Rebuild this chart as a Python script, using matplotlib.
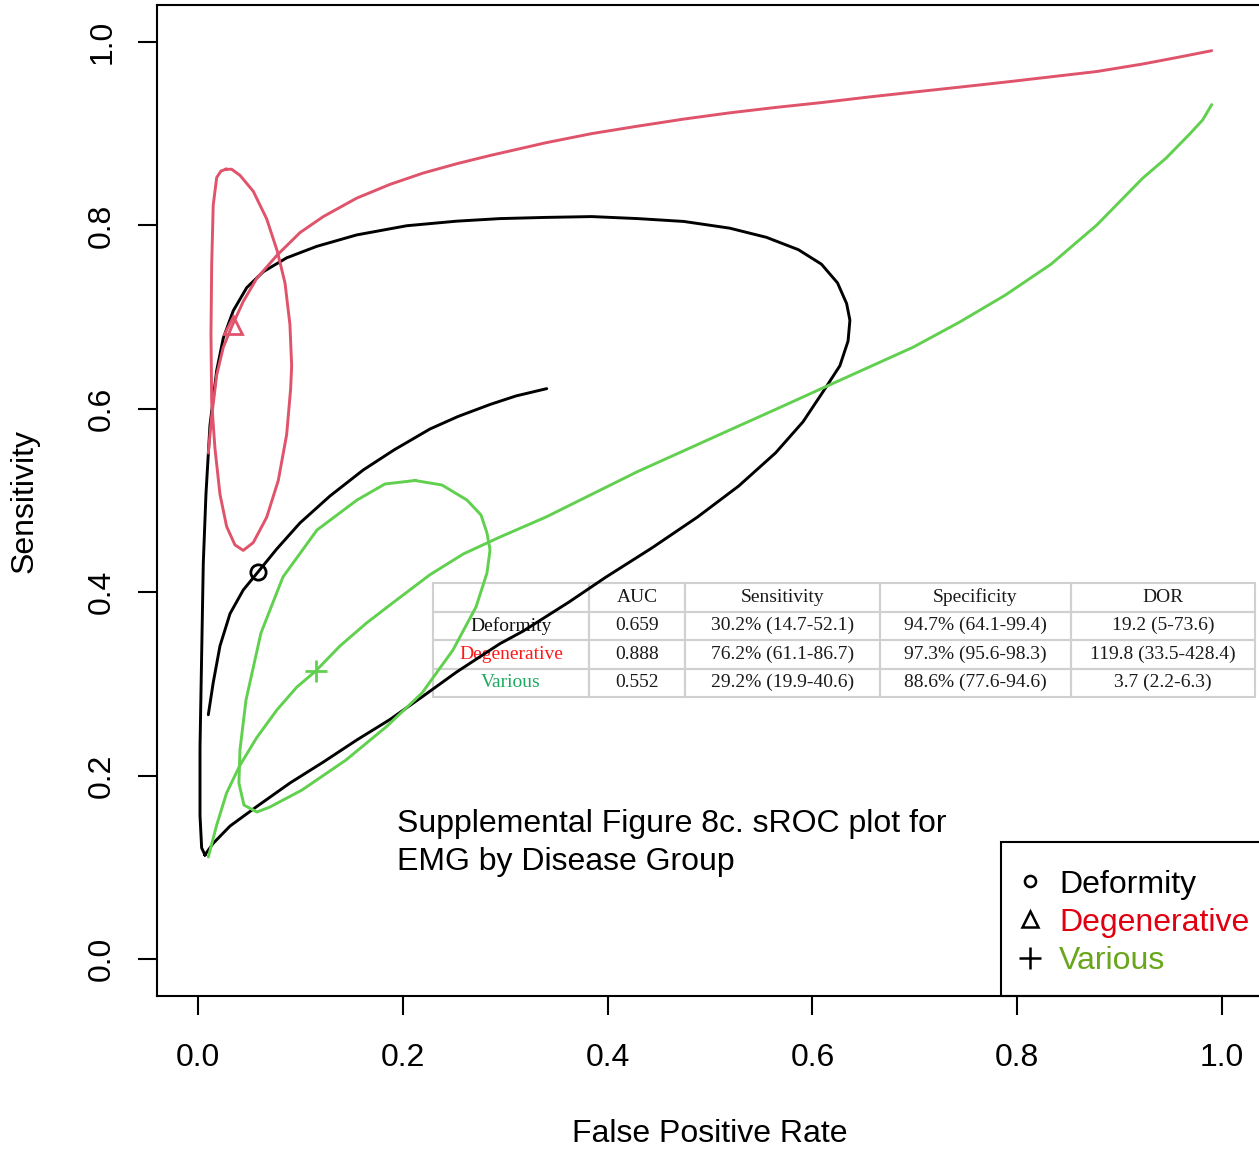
import numpy as np
import matplotlib.pyplot as plt
from matplotlib.patches import Rectangle

plt.rcParams['font.family'] = ['Liberation Sans', 'DejaVu Sans']

# ---- data (FPR, sensitivity) ----
groups = ["Deformity", "Degenerative", "Various"]
line_colors = ["black", "#DF536B", "#61D04F"]
legend_text_colors = ["black", "#E00010", "#6AA61C"]
table_name_colors = ["#111111", "#FF1A1A", "#1DAA60"]
markers = ["o", "^", "+"]

# summary points
point_fpr = [0.0586, 0.0342, 0.1152]
point_sens = [0.4220, 0.6910, 0.3141]

# sROC curves
deform_curve_fpr = [0.0101, 0.0149, 0.0215, 0.0313, 0.0442, 0.0586, 0.0769, 0.0996,
                    0.1289, 0.1614, 0.1914, 0.2266, 0.2539, 0.2852, 0.3105, 0.3406]
deform_curve_sens = [0.2664, 0.3014, 0.3414, 0.3766, 0.4024, 0.4220, 0.4471, 0.4755,
                     0.5049, 0.5333, 0.5551, 0.5780, 0.5916, 0.6047, 0.6140, 0.6220]

degen_curve_fpr = [0.0101, 0.0134, 0.0183, 0.0247, 0.0329, 0.0442, 0.0573, 0.0769,
                   0.0996, 0.1224, 0.1550, 0.1875, 0.2200, 0.2526, 0.2852, 0.3397,
                   0.3846, 0.4294, 0.4743, 0.5191, 0.5640, 0.6088, 0.6536, 0.6984,
                   0.7433, 0.7881, 0.8330, 0.8778, 0.9227, 0.9585, 0.9899]
degen_curve_sens = [0.5518, 0.5918, 0.6369, 0.6670, 0.6894, 0.7170, 0.7420, 0.7671,
                    0.7921, 0.8096, 0.8297, 0.8447, 0.8571, 0.8672, 0.8762, 0.8901,
                    0.9001, 0.9082, 0.9159, 0.9227, 0.9286, 0.9339, 0.9398, 0.9453,
                    0.9507, 0.9562, 0.9620, 0.9678, 0.9760, 0.9836, 0.9905]

various_curve_fpr = [0.0101, 0.0183, 0.0280, 0.0410, 0.0573, 0.0769, 0.0964, 0.1149,
                     0.1387, 0.1647, 0.1940, 0.2266, 0.2591, 0.2949, 0.3397, 0.3846,
                     0.4294, 0.4743, 0.5191, 0.5640, 0.6088, 0.6536, 0.6984, 0.7433,
                     0.7881, 0.8330, 0.8778, 0.9227, 0.9450, 0.9675, 0.9810, 0.9899]
various_curve_sens = [0.1112, 0.1462, 0.1812, 0.2113, 0.2413, 0.2714, 0.2964, 0.3140,
                      0.3414, 0.3665, 0.3916, 0.4191, 0.4417, 0.4602, 0.4819, 0.5068,
                      0.5316, 0.5542, 0.5768, 0.5993, 0.6220, 0.6446, 0.6672, 0.6943,
                      0.7238, 0.7577, 0.8005, 0.8517, 0.8730, 0.8986, 0.9149, 0.9317]

# confidence regions
deform_ell_fpr = [0.0068, 0.0036, 0.0020, 0.0020, 0.0036, 0.0052, 0.0078, 0.0117,
                  0.0183, 0.0247, 0.0345, 0.0476, 0.0638, 0.0866, 0.1159, 0.1550,
                  0.2038, 0.2526, 0.2949, 0.3397, 0.3846, 0.4294, 0.4743, 0.5191,
                  0.5550, 0.5863, 0.6088, 0.6245, 0.6334, 0.6366, 0.6348, 0.6268,
                  0.6110, 0.5908, 0.5640, 0.5280, 0.4877, 0.4429, 0.3980, 0.3622,
                  0.3174, 0.2949, 0.2526, 0.2200, 0.1875, 0.1550, 0.1224, 0.0898,
                  0.0573, 0.0313, 0.0149, 0.0068]
deform_ell_sens = [0.1136, 0.1212, 0.1563, 0.2313, 0.3315, 0.4316, 0.5067, 0.5818,
                   0.6419, 0.6770, 0.7070, 0.7321, 0.7495, 0.7646, 0.7771, 0.7896,
                   0.7996, 0.8046, 0.8074, 0.8087, 0.8096, 0.8074, 0.8043, 0.7970,
                   0.7870, 0.7735, 0.7577, 0.7373, 0.7147, 0.6966, 0.6739, 0.6469,
                   0.6197, 0.5858, 0.5519, 0.5158, 0.4819, 0.4480, 0.4162, 0.3892,
                   0.3575, 0.3439, 0.3130, 0.2868, 0.2612, 0.2388, 0.2148, 0.1919,
                   0.1662, 0.1450, 0.1262, 0.1136]

degen_ell_fpr = [0.0273, 0.0329, 0.0410, 0.0540, 0.0671, 0.0774, 0.0850, 0.0898,
                 0.0915, 0.0905, 0.0866, 0.0784, 0.0671, 0.0540, 0.0442, 0.0361,
                 0.0280, 0.0215, 0.0166, 0.0134, 0.0127, 0.0134, 0.0149, 0.0183,
                 0.0225, 0.0273]
degen_ell_sens = [0.8612, 0.8612, 0.8546, 0.8372, 0.8071, 0.7721, 0.7371, 0.6919,
                  0.6469, 0.6219, 0.5718, 0.5217, 0.4817, 0.4541, 0.4456, 0.4516,
                  0.4716, 0.5067, 0.5568, 0.6069, 0.6819, 0.7570, 0.8222, 0.8522,
                  0.8593, 0.8612]

various_ell_fpr = [0.2119, 0.2383, 0.2627, 0.2764, 0.2822, 0.2852, 0.2822, 0.2715,
                   0.2490, 0.2188, 0.1836, 0.1445, 0.1016, 0.0703, 0.0576, 0.0449,
                   0.0400, 0.0410, 0.0469, 0.0615, 0.0830, 0.1162, 0.1553, 0.1826,
                   0.2119]
various_ell_sens = [0.5218, 0.5169, 0.5005, 0.4842, 0.4646, 0.4460, 0.4209, 0.3839,
                    0.3370, 0.2901, 0.2530, 0.2170, 0.1843, 0.1658, 0.1603, 0.1679,
                    0.1919, 0.2279, 0.2824, 0.3555, 0.4166, 0.4678, 0.5005, 0.5180,
                    0.5218]

# summary table
table_header = ["", "AUC", "Sensitivity", "Specificity", "DOR"]
table_auc = ["0.659", "0.888", "0.552"]
table_sens = ["30.2% (14.7-52.1)", "76.2% (61.1-86.7)", "29.2% (19.9-40.6)"]
table_spec = ["94.7% (64.1-99.4)", "97.3% (95.6-98.3)", "88.6% (77.6-94.6)"]
table_dor = ["19.2 (5-73.6)", "119.8 (33.5-428.4)", "3.7 (2.2-6.3)"]

caption = ["Supplemental Figure 8c. sROC plot for", "EMG by Disease Group"]

# ---- figure ----
fig = plt.figure(figsize=(12.59, 11.49), dpi=100)
ax = fig.add_axes([0.1247, 0.1334, 0.8785, 0.862])

curves = [(deform_curve_fpr, deform_curve_sens), (degen_curve_fpr, degen_curve_sens),
          (various_curve_fpr, various_curve_sens)]
ellipses = [(deform_ell_fpr, deform_ell_sens), (degen_ell_fpr, degen_ell_sens),
            (various_ell_fpr, various_ell_sens)]
msizes = [11, 13, 16]

for i in range(3):
    ax.plot(*curves[i], color=line_colors[i], lw=2.1, solid_capstyle='round',
            solid_joinstyle='round', zorder=3)
    ax.plot(*ellipses[i], color=line_colors[i], lw=2.1, solid_joinstyle='round', zorder=3)
    ax.plot(point_fpr[i], point_sens[i], marker=markers[i], ms=msizes[i], mfc='none',
            mec=line_colors[i], mew=2, linestyle='none', zorder=4)

ax.set_xlim(-0.04, 1.04)
ax.set_ylim(-0.04, 1.04)
ticks = np.arange(0, 1.01, 0.2)
ax.set_xticks(ticks)
ax.set_xticklabels([f"{t:.1f}" for t in ticks], fontsize=23)
ax.set_yticks(ticks)
ax.set_yticklabels([f"{t:.1f}" for t in ticks], fontsize=23, rotation=90, va='center')
ax.tick_params(axis='both', length=13.7, width=1.5)
ax.tick_params(axis='x', pad=20)
ax.tick_params(axis='y', pad=15)
for sp in ax.spines.values():
    sp.set_linewidth(1.5)

ax.set_xlabel("False Positive Rate", fontsize=23)
ax.set_ylabel("Sensitivity", fontsize=23)
ax.xaxis.set_label_coords(0.5, -0.1245)
ax.yaxis.set_label_coords(-0.106, 0.5)

# caption
ax.text(0.194, 0.1385, caption[0], fontsize=23, va='baseline', ha='left')
ax.text(0.194, 0.097, caption[1], fontsize=23, va='baseline', ha='left')

# table
cell_text = [[groups[i], table_auc[i], table_sens[i], table_spec[i], table_dor[i]]
             for i in range(3)]
col_w = [156, 96, 195, 191, 184]
tbl = ax.table(cellText=cell_text, colLabels=table_header,
               colWidths=[w / sum(col_w) for w in col_w], cellLoc='center',
               bbox=[0.2495, 0.3016, 0.7432, 0.1151])
tbl.auto_set_font_size(False)
tbl.set_zorder(2)
for (r, c), cell in tbl.get_celld().items():
    cell.set_edgecolor('#D0D0D0')
    cell.set_facecolor('none')
    cell.set_linewidth(1.5)
    txt = cell.get_text()
    txt.set_fontsize(14)
    txt.set_fontfamily('Liberation Serif')
    txt.set_color('#1A1A1A')
    if c == 0 and r > 0:
        txt.set_color(table_name_colors[r - 1])

# legend (box runs off the right edge like the reference)
ax.add_patch(Rectangle((0.7631, 0.0), 0.3, 0.1552, transform=ax.transAxes,
                       fill=False, lw=1.5, edgecolor='black', clip_on=False, zorder=5))
leg_y = [0.1158, 0.0774, 0.0381]
leg_ms = [8, 11, 16]
for i in range(3):
    ax.plot(0.7893, leg_y[i], marker=markers[i], ms=leg_ms[i], mfc='none', mec='black',
            mew=1.8, transform=ax.transAxes, clip_on=False, zorder=6)
    ax.text(0.8156, leg_y[i], groups[i], color=legend_text_colors[i], fontsize=23,
            va='center_baseline', ha='left', transform=ax.transAxes, zorder=6)

fig.savefig("out.png", dpi=100)
